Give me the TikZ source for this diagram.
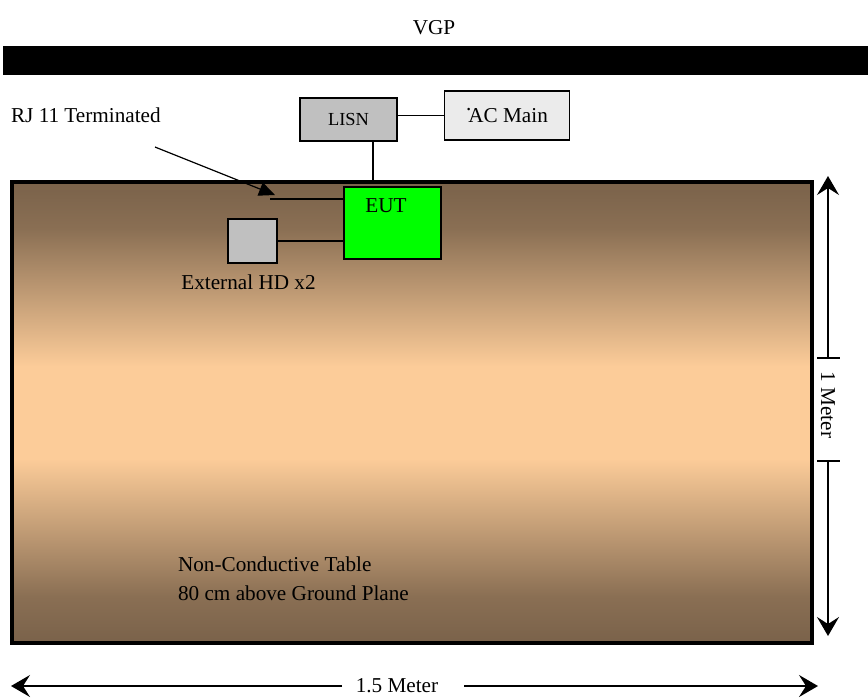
\documentclass[tikz,border=0pt]{standalone}
\usepackage{fontspec}
\setmainfont{Liberation Serif}
\usetikzlibrary{positioning,arrows.meta}
\definecolor{tabdark}{RGB}{122,98,74}
\definecolor{tabpeach}{RGB}{252,204,153}
\definecolor{unitgray}{RGB}{192,192,192}
\definecolor{mainsgray}{RGB}{235,235,235}
\definecolor{eutgreen}{RGB}{0,255,0}
\pgfdeclareverticalshading{tableshade}{100bp}{%
  color(0bp)=(tabdark); color(25bp)=(tabdark); color(30bp)=(tabdark!88!tabpeach);
  color(45bp)=(tabpeach); color(55bp)=(tabpeach); color(70bp)=(tabdark!88!tabpeach);
  color(75bp)=(tabdark); color(100bp)=(tabdark)}

\begin{document}
\begin{tikzpicture}[x=0.5pt, y=-0.5pt, every node/.style={font=\fontsize{10.6}{13}\selectfont}]
  \tikzset{
    unit/.style={draw, line width=0.8pt, inner sep=0pt},
    cable/.style={line width=0.6pt},
    dimline/.style={line width=0.7pt, -{Stealth[length=9.5pt, width=11pt, inset=3.5pt]}}
  }
  \useasboundingbox (0,0) rectangle (868,698);

  % Ground plane
  \node (vgp) at (434,28) {VGP};
  \fill (3,46) rectangle (868,75);

  % Table
  \node[draw, line width=1.6pt, minimum width=400pt, minimum height=230.5pt,
        shading=tableshade] (table) at (412,412.5) {};
  \node[anchor=west, align=left, font=\fontsize{10.6}{14.5}\selectfont] (tabletext) at (171,578.5)
    {Non-Conductive Table\\80 cm above Ground Plane};

  % Units
  \node[unit, fill=unitgray, minimum width=48.5pt, minimum height=21.5pt,
        font=\fontsize{9.2}{11}\selectfont] (lisn) at (348.5,119.5) {LISN};
  \node[unit, fill=mainsgray, minimum width=62.5pt, minimum height=24.5pt] (acmain) at (507,115.5)
    {\raisebox{1.2ex}{.}\kern-1.5pt AC Main};
  \node[unit, fill=eutgreen, minimum width=48.5pt, minimum height=36pt] (eut) at (392.5,223) {};
  \node (eutlabel) at (386,206) {EUT};
  \node[unit, fill=unitgray, minimum width=24.5pt, minimum height=22pt] (hd) at (252.5,241) {};
  \node[below=2pt of hd, xshift=-2pt] (hdlabel) {External HD x2};

  % Labels
  \node[anchor=west] (rjlabel) at (4,115) {RJ 11 Terminated};
  \node[rotate=-90] (onem) at (828,405) {1 Meter};
  \node (onefive) at (397,686) {1.5 Meter};

  % Connectors
  \coordinate (pwrtap) at (373,141);
  \coordinate (rjend) at (270,199);
  \coordinate (rjtail) at (155,147);
  \coordinate (rjtip) at (275,195);
  \draw[cable] (lisn.east |- acmain.west) -- (acmain.west);
  \draw[cable] (pwrtap) -- (pwrtap |- table.north);
  \draw[cable] (rjend) -- (rjend -| eut.west);
  \draw[cable] (hd.east) -- (hd.east -| eut.west);
  \draw[cable, -{Triangle[length=8pt, width=7pt]}] (rjtail) -- (rjtip);

  % Dimensions
  \coordinate (vtop) at (828,176);
  \coordinate (vbot) at (828,636);
  \coordinate (tickup) at (828,358);
  \coordinate (tickdn) at (828,461);
  \coordinate (hleft) at (11,686);
  \coordinate (hright) at (818,686);
  \coordinate (hlstart) at (342,686);
  \coordinate (hrstart) at (464,686);
  \draw[line width=0.8pt] ([xshift=-5.5pt]tickup) -- ([xshift=6pt]tickup);
  \draw[line width=0.8pt] ([xshift=-5.5pt]tickdn) -- ([xshift=6pt]tickdn);
  \draw[dimline] (tickup) -- (vtop);
  \draw[dimline] (tickdn) -- (vbot);
  \draw[dimline] (hlstart) -- (hleft);
  \draw[dimline, line width=1pt] (hrstart) -- (hright);
\end{tikzpicture}
\end{document}
